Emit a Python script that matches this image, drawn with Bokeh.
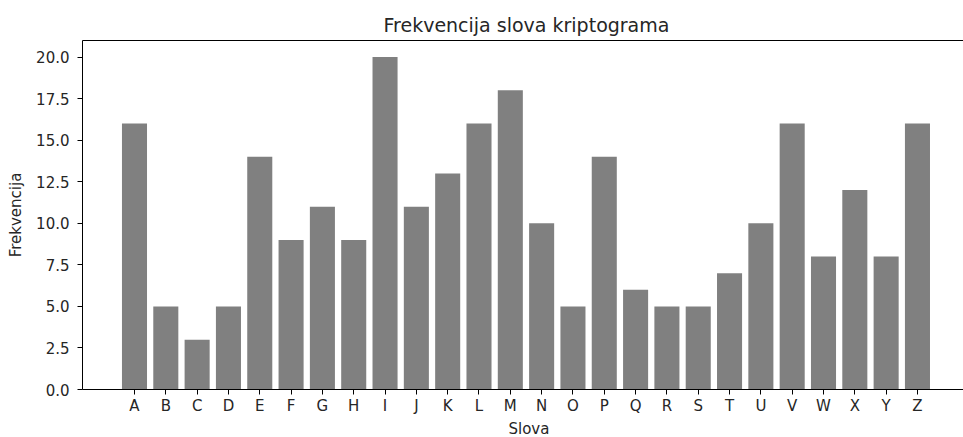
from bokeh.plotting import figure
from bokeh.models import Range1d, FixedTicker, PrintfTickFormatter, LinearAxis, Title
from bokeh.embed import file_html
from bokeh.resources import INLINE

letters = list("ABCDEFGHIJKLMNOPQRSTUVWXYZ")
counts = [16, 5, 3, 5, 14, 9, 11, 9, 20, 11, 13, 16, 18, 10, 5, 14, 6, 5, 5, 7, 10, 16, 8, 12, 8, 16]
y_ticks = [0, 2.5, 5, 7.5, 10, 12.5, 15, 17.5, 20]

title_text = "Frekvencija slova kriptograma"
x_label = "Slova"
y_label = "Frekvencija"

positions = list(range(len(letters)))

FONT = "DejaVu Sans"
TXT = "#262626"

p = figure(width=963, height=437, output_backend="svg", toolbar_location=None,
           x_range=Range1d(-1.66, len(letters) - 1 + 1.47), y_range=Range1d(0, 21),
           title=title_text, x_axis_type=None, y_axis_type=None,
           min_border_left=82, min_border_right=0, min_border_bottom=48, min_border_top=40)

p.vbar(x=positions, top=counts, width=0.8, color="#808080", line_color=None)

p.xgrid.visible = False
p.ygrid.visible = False
p.outline_line_color = None
p.background_fill_color = "white"
p.border_fill_color = "white"

p.title.text_font = FONT
p.title.text_font_size = "19px"
p.title.text_font_style = "normal"
p.title.text_color = TXT
p.title.align = "left"
p.title.offset = 301
p.title.standoff = 10

def style_axis(ax):
    ax.axis_line_color = "black"
    ax.axis_line_width = 1
    ax.major_tick_line_color = "black"
    ax.major_tick_out = 5
    ax.major_tick_in = 0
    ax.minor_tick_line_color = None
    ax.major_label_text_font = FONT
    ax.major_label_text_font_size = "15px"
    ax.major_label_text_color = TXT
    ax.axis_label_text_font = FONT
    ax.axis_label_text_font_size = "15px"
    ax.axis_label_text_font_style = "normal"
    ax.axis_label_text_color = TXT

xaxis = LinearAxis(ticker=FixedTicker(ticks=positions),
                   major_label_overrides={i: l for i, l in zip(positions, letters)})
style_axis(xaxis)
xaxis.major_label_standoff = 2
p.add_layout(xaxis, "below")

xlab = Title(text=x_label, align="left", offset=426, standoff=0,
             text_font=FONT, text_font_size="15px", text_font_style="normal", text_color=TXT)
p.add_layout(xlab, "below")

yaxis = LinearAxis(ticker=FixedTicker(ticks=y_ticks), formatter=PrintfTickFormatter(format="%.1f"),
                   axis_label=y_label)
style_axis(yaxis)
yaxis.major_label_standoff = 8
yaxis.axis_label_standoff = 8
p.add_layout(yaxis, "left")

top = LinearAxis(ticker=FixedTicker(ticks=[]))
top.axis_line_color = "black"
top.major_tick_line_color = None
top.minor_tick_line_color = None
top.major_label_text_font_size = "0px"
top.major_label_standoff = 0
top.major_tick_out = 0
top.major_tick_in = 0
p.add_layout(top, "above")

open("out.html", "w").write(file_html(p, INLINE))
